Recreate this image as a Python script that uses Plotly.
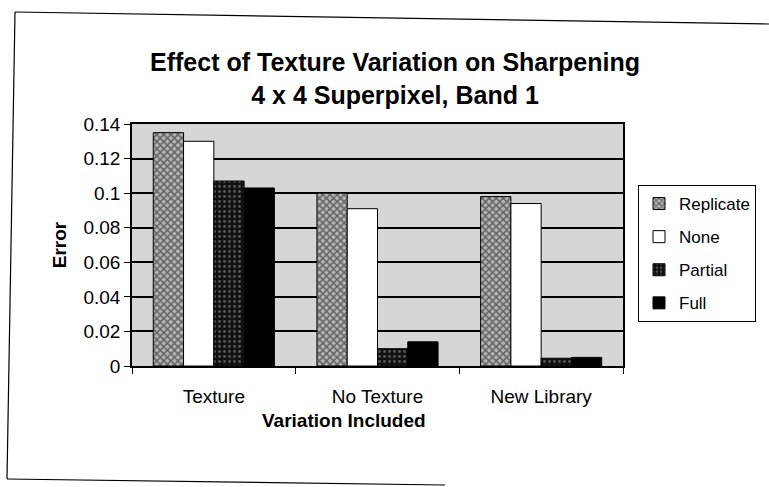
import plotly.graph_objects as go

# Data
categories = ["Texture", "No Texture", "New Library"]
replicate = [0.135, 0.100, 0.098]
none_vals = [0.130, 0.091, 0.094]
partial = [0.107, 0.010, 0.0045]
full = [0.103, 0.014, 0.005]
y_ticks = [0, 0.02, 0.04, 0.06, 0.08, 0.1, 0.12, 0.14]

FONT = "Liberation Sans, Arial, sans-serif"

# Plot-area geometry (pixels)
W, H = 769, 487
L, R, T, B = 132, 146, 124, 121
PW, PH = W - L - R, H - T - B


def px_x(x):
    return (x - L) / PW


def px_y(y):
    return (H - B - y) / PH


fig = go.Figure()

series = [
    ("Replicate", replicate, dict(color="#b4b4b4", line=dict(color="black", width=1),
                                  pattern=dict(shape="x", fgcolor="#111111", bgcolor="#b4b4b4",
                                               size=5, solidity=0.5))),
    ("None", none_vals, dict(color="white", line=dict(color="black", width=1))),
    ("Partial", partial, dict(color="#111111", line=dict(color="black", width=1),
                              pattern=dict(shape=".", fgcolor="#9a9a9a", bgcolor="#111111",
                                           size=5, solidity=0.25))),
    ("Full", full, dict(color="black", line=dict(color="black", width=1))),
]

for name, vals, marker in series:
    fig.add_trace(go.Bar(name=name, x=categories, y=vals, marker=marker,
                         legendgroup=name))

# Outer chart frame
frame = dict(type="line", xref="paper", yref="paper", line=dict(color="black", width=1.2))
fig.add_shape(**frame, x0=px_x(15), y0=px_y(12), x1=px_x(769), y1=px_y(24))
fig.add_shape(**frame, x0=px_x(15), y0=px_y(12), x1=px_x(7), y1=px_y(479))
fig.add_shape(**frame, x0=px_x(7), y0=px_y(479), x1=px_x(445), y1=px_y(485))

fig.add_annotation(text="<b>Variation Included</b>", xref="paper", yref="paper",
                   x=px_x(344), y=px_y(420), xanchor="center", yanchor="middle",
                   showarrow=False,
                   font=dict(family=FONT, size=19, color="black"))

fig.update_layout(
    width=W, height=H,
    margin=dict(l=L, r=R, t=T, b=B, autoexpand=False),
    paper_bgcolor="white",
    plot_bgcolor="#d6d6d6",
    barmode="group",
    bargap=0.26,
    bargroupgap=0,
    font=dict(family=FONT, size=19, color="black"),
    title=dict(text="<b>Effect of Texture Variation on Sharpening<br>4 x 4 Superpixel, Band 1</b>",
               x=395 / W, xanchor="center", xref="container",
               y=1 - 71 / H, yanchor="middle", yref="container",
               font=dict(family=FONT, size=25, color="black")),
    legend=dict(x=px_x(638), y=px_y(185), xanchor="left", yanchor="top",
                bordercolor="black", borderwidth=1, bgcolor="white",
                font=dict(family=FONT, size=17, color="black"),
                traceorder="grouped", tracegroupgap=8,
                itemwidth=30),
    showlegend=True,
)

fig.update_xaxes(
    showline=True, linecolor="black", linewidth=1.5, mirror=True,
    ticks="outside", tickson="boundaries", ticklen=6, tickcolor="black",
    showgrid=False, ticklabelstandoff=12,
)
fig.update_yaxes(
    range=[0, 0.14], tickvals=y_ticks,
    showline=True, linecolor="black", linewidth=1.5, mirror=True,
    ticks="outside", ticklen=6, tickcolor="black",
    showgrid=True, gridcolor="black", gridwidth=1.5,
    zeroline=False,
    title=dict(text="<b>Error</b>", font=dict(family=FONT, size=19), standoff=12),
)

fig.write_html("out.html")
